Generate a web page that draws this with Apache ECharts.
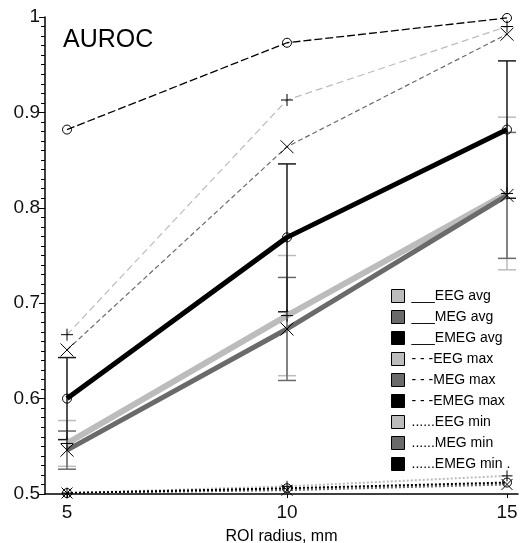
<!DOCTYPE html>
<html>
<head>
<meta charset="utf-8">
<script src="https://cdn.jsdelivr.net/npm/echarts@6/dist/echarts.min.js"></script>
<style>
  html, body { margin: 0; padding: 0; background: #fff; }
  #chart { width: 520px; height: 543px; }
</style>
</head>
<body>
<div id="chart"></div>
<script>
// ROI radius, mm
const radius = [5, 10, 15];
const xTicks = [5, 10, 15];

// averages + error bar ends
const eegAvg = [0.553, 0.687, 0.815];
const eegLow = [0.529, 0.624, 0.735];
const eegHigh = [0.577, 0.750, 0.895];
const megAvg = [0.546, 0.673, 0.813];
const megLow = [0.526, 0.619, 0.747];
const megHigh = [0.566, 0.727, 0.879];
const emegAvg = [0.600, 0.769, 0.882];
const emegLow = [0.557, 0.691, 0.810];
const emegHigh = [0.643, 0.846, 0.954];

// max
const eegMax = [0.667, 0.913, 0.990];
const megMax = [0.651, 0.864, 0.982];
const emegMax = [0.882, 0.973, 0.999];

// min
const eegMin = [0.501, 0.508, 0.519];
const megMin = [0.501, 0.504, 0.510];
const emegMin = [0.501, 0.506, 0.512];

const names = ["___EEG avg", "___MEG avg", "___EMEG avg",
  "- - -EEG max", "- - -MEG max", "- - -EMEG max",
  "......EEG min", "......MEG min", "......EMEG min ."];

const LIGHT = "#bcbcbc", DARK = "#6a6a6a", BLACK = "#000";
const FONT = "Liberation Sans";

const PLUS = "path://M0,5L10,5M5,0L5,10";
const CROSS = "path://M0,0L10,10M0,10L10,0";

function pts(vals) {
  return radius.map((r, i) => [r, vals[i]]);
}

function lineSeries(name, vals, color, width, type, symbol, size) {
  return {
    name: name,
    type: "line",
    data: pts(vals),
    symbol: symbol,
    symbolSize: size,
    lineStyle: { color: color, width: width, type: type },
    itemStyle: { color: "rgba(0,0,0,0)", borderColor: "#000", borderWidth: 1 },
    emphasis: { disabled: true },
    animation: false
  };
}

// vertical error bar with caps
function errSeries(low, high, color) {
  return {
    type: "custom",
    data: radius.map((r, i) => [r, low[i], high[i]]),
    encode: { x: 0, y: [1, 2] },
    z: 3,
    renderItem: function (params, api) {
      const x = api.value(0);
      const lo = api.coord([x, api.value(1)]);
      const hi = api.coord([x, api.value(2)]);
      const w = 9;
      const st = { stroke: color, lineWidth: 1.5 };
      return {
        type: "group",
        children: [
          { type: "line", shape: { x1: lo[0], y1: lo[1], x2: hi[0], y2: hi[1] }, style: st },
          { type: "line", shape: { x1: lo[0] - w, y1: lo[1], x2: lo[0] + w, y2: lo[1] }, style: st },
          { type: "line", shape: { x1: hi[0] - w, y1: hi[1], x2: hi[0] + w, y2: hi[1] }, style: st }
        ]
      };
    },
    animation: false
  };
}

const swatch = [LIGHT, DARK, BLACK, LIGHT, DARK, BLACK, LIGHT, DARK, BLACK];

const chart = echarts.init(document.getElementById("chart"));
chart.setOption({
  backgroundColor: "#fff",
  textStyle: { fontFamily: FONT },
  title: {
    text: "AUROC",
    left: 58,
    top: 23,
    textStyle: { fontFamily: FONT, fontSize: 25, fontWeight: "normal", color: "#000" }
  },
  legend: {
    orient: "vertical",
    left: 386,
    top: 284,
    itemWidth: 13,
    itemHeight: 13,
    itemGap: 7,
    icon: "rect",
    selectedMode: false,
    textStyle: { fontFamily: FONT, fontSize: 14, color: "#000", padding: [0, 0, 0, 2] },
    data: names.map((n, i) => ({
      name: n,
      icon: "rect",
      itemStyle: { color: swatch[i], borderColor: "#000", borderWidth: 1 }
    }))
  },
  grid: { left: 45, right: 2, top: 17, bottom: 49, outerBoundsMode: "none" },
  xAxis: {
    type: "value",
    min: 4.5,
    max: 15.25,
    name: "ROI radius, mm",
    nameLocation: "middle",
    nameGap: 35,
    nameTextStyle: { fontFamily: FONT, fontSize: 16, color: "#000" },
    axisLine: { lineStyle: { color: "#000", width: 1.5 } },
    axisTick: { customValues: xTicks, length: 4, lineStyle: { color: "#000" } },
    axisLabel: { customValues: xTicks, fontFamily: FONT, fontSize: 19, color: "#111", margin: 9 },
    splitLine: { show: false }
  },
  yAxis: {
    type: "value",
    min: 0.5,
    max: 1,
    interval: 0.1,
    axisLine: { show: true, lineStyle: { color: "#000", width: 1.5 } },
    axisTick: { show: true, length: 6, lineStyle: { color: "#000" } },
    minorTick: { show: true, splitNumber: 10, length: 4, lineStyle: { color: "#000" } },
    axisLabel: { fontFamily: FONT, fontSize: 19, color: "#111", margin: 5 },
    splitLine: { show: false },
    minorSplitLine: { show: false }
  },
  series: [
    lineSeries(names[6], eegMin, LIGHT, 2, [2, 2], PLUS, 11),
    lineSeries(names[7], megMin, DARK, 2, [2, 2], CROSS, 11),
    lineSeries(names[8], emegMin, BLACK, 2, [2, 2], "circle", 9),
    lineSeries(names[3], eegMax, LIGHT, 1.2, [7, 4], PLUS, 12),
    lineSeries(names[4], megMax, DARK, 1.2, [5, 3], CROSS, 13),
    lineSeries(names[5], emegMax, BLACK, 1.3, [8, 3], "circle", 9),
    lineSeries(names[0], eegAvg, LIGHT, 6, "solid", PLUS, 12),
    lineSeries(names[1], megAvg, DARK, 5, "solid", CROSS, 13),
    lineSeries(names[2], emegAvg, BLACK, 5, "solid", "circle", 9),
    errSeries(eegLow, eegHigh, LIGHT),
    errSeries(megLow, megHigh, DARK),
    errSeries(emegLow, emegHigh, "#1a1a1a")
  ]
});
</script>
</body>
</html>
